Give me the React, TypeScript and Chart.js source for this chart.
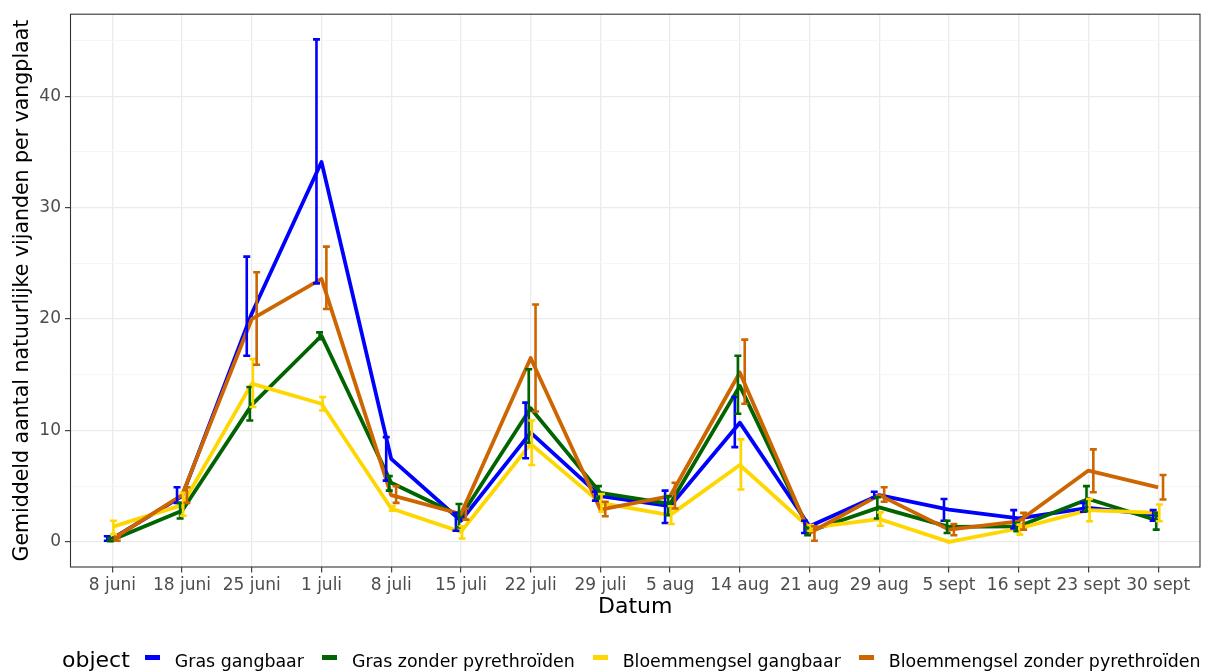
import React, { useEffect, useRef } from 'react';
import { Chart, registerables } from 'chart.js';

Chart.register(...registerables);

// ---------- data ----------
const DATES = ['8 juni', '18 juni', '25 juni', '1 juli', '8 juli', '15 juli', '22 juli', '29 juli', '5 aug', '14 aug', '21 aug', '29 aug', '5 sept', '16 sept', '23 sept', '30 sept'];

const SERIES_NAMES = ['Gras gangbaar', 'Gras zonder pyrethroïden', 'Bloemmengsel gangbaar', 'Bloemmengsel zonder pyrethroïden'];
const SERIES_COLORS = ['#0000FF', '#006400', '#FFD700', '#CD6600'];

const GRAS_GANGBAAR = [0.3, 4.1, 20.5, 34.1, 7.45, 1.9, 9.8, 4.1, 3.2, 10.7, 1.4, 4.2, 2.9, 2.1, 3.05, 2.4];
const GRAS_GANGBAAR_LOW = [0.1, 3.5, 16.7, 23.2, 5.5, 1.0, 7.5, 3.7, 1.7, 8.5, 0.8, 3.95, 1.9, 1.2, 2.7, 1.9];
const GRAS_GANGBAAR_HIGH = [0.5, 4.9, 25.6, 45.1, 9.4, 2.6, 12.5, 4.5, 4.6, 13.0, 1.9, 4.5, 3.85, 2.85, 3.5, 2.85];

const GRAS_ZONDER = [0.2, 2.8, 12.3, 18.5, 5.3, 2.3, 12.0, 4.4, 3.4, 14.0, 0.95, 3.1, 1.35, 1.4, 3.85, 1.9];
const GRAS_ZONDER_LOW = [0.05, 2.1, 10.9, 18.2, 4.6, 1.3, 8.9, 3.9, 2.4, 11.5, 0.6, 2.1, 0.8, 0.95, 2.75, 1.1];
const GRAS_ZONDER_HIGH = [0.35, 3.5, 13.9, 18.8, 5.9, 3.4, 15.5, 5.0, 4.1, 16.7, 1.3, 4.0, 1.9, 1.7, 5.0, 2.6];

const BLOEM_GANGBAAR = [1.35, 3.3, 14.2, 12.4, 3.0, 0.9, 8.8, 3.5, 2.4, 6.9, 1.25, 2.05, 0, 1.2, 2.85, 2.6];
const BLOEM_GANGBAAR_LOW = [0.7, 2.35, 12.1, 11.8, 2.8, 0.3, 6.9, 2.7, 1.6, 4.7, 1.0, 1.45, 0, 0.65, 1.85, 1.85];
const BLOEM_GANGBAAR_HIGH = [1.9, 4.4, 16.4, 13.0, 3.2, 1.4, 10.9, 4.3, 3.2, 9.2, 1.5, 2.65, 0, 1.55, 3.85, 3.35];

const BLOEM_ZONDER = [0.25, 4.2, 20.0, 23.6, 4.2, 2.5, 16.5, 2.9, 4.1, 15.2, 0.8, 4.2, 1.1, 1.85, 6.4, 4.9];
const BLOEM_ZONDER_LOW = [0.1, 3.5, 15.9, 20.9, 3.5, 2.0, 11.7, 2.3, 3.0, 12.4, 0.1, 3.6, 0.6, 1.1, 4.45, 3.8];
const BLOEM_ZONDER_HIGH = [0.4, 4.9, 24.2, 26.5, 5.0, 3.0, 21.3, 3.6, 5.3, 18.15, 1.4, 4.9, 1.6, 2.6, 8.3, 6.0];

const Y_MAJOR_TICKS = [0, 10, 20, 30, 40];
const Y_MINOR_TICKS = [5, 15, 25, 35, 45];

const X_TITLE = 'Datum';
const Y_TITLE = 'Gemiddeld aantal natuurlijke vijanden per vangplaat';
const LEGEND_TITLE = 'object';

// ---------- style ----------
const FONT = "'DejaVu Sans', 'Liberation Sans', Arial, sans-serif";
const DODGE = [-0.072, -0.028, 0.016, 0.07];
const CAP_HALF = 0.05;

const MEANS = [GRAS_GANGBAAR, GRAS_ZONDER, BLOEM_GANGBAAR, BLOEM_ZONDER];
const LOWS = [GRAS_GANGBAAR_LOW, GRAS_ZONDER_LOW, BLOEM_GANGBAAR_LOW, BLOEM_ZONDER_LOW];
const HIGHS = [GRAS_GANGBAAR_HIGH, GRAS_ZONDER_HIGH, BLOEM_GANGBAAR_HIGH, BLOEM_ZONDER_HIGH];

const errorBarPlugin = {
  id: 'errorBars',
  afterDatasetsDraw(chart: any) {
    const { ctx } = chart;
    const x = chart.scales.x;
    const y = chart.scales.y;
    ctx.save();
    ctx.lineCap = 'butt';
    ctx.lineWidth = 2.6;
    LOWS.forEach((lows, d) => {
      ctx.strokeStyle = SERIES_COLORS[d];
      lows.forEach((lo, i) => {
        const hi = HIGHS[d][i];
        const xc = x.getPixelForValue(i + DODGE[d]);
        const xl = x.getPixelForValue(i + DODGE[d] - CAP_HALF);
        const xr = x.getPixelForValue(i + DODGE[d] + CAP_HALF);
        const yl = y.getPixelForValue(lo);
        const yh = y.getPixelForValue(hi);
        ctx.beginPath();
        ctx.moveTo(xc, yl);
        ctx.lineTo(xc, yh);
        ctx.moveTo(xl, yl);
        ctx.lineTo(xr, yl);
        ctx.moveTo(xl, yh);
        ctx.lineTo(xr, yh);
        ctx.stroke();
      });
    });
    ctx.restore();
  },
  afterDraw(chart: any) {
    const { ctx, chartArea } = chart;
    ctx.save();
    ctx.strokeStyle = '#333333';
    ctx.lineWidth = 1.1;
    ctx.strokeRect(chartArea.left, chartArea.top, chartArea.right - chartArea.left, chartArea.bottom - chartArea.top);
    ctx.restore();
  },
};

export default function App() {
  const canvasRef = useRef<HTMLCanvasElement | null>(null);

  useEffect(() => {
    document.body.style.margin = '0';
    const canvas = canvasRef.current;
    if (!canvas) return;
    Chart.defaults.font.family = FONT;

    const datasets = MEANS.map((vals, d) => ({
      label: SERIES_NAMES[d],
      data: vals.map((v, i) => ({ x: i, y: v })),
      borderColor: SERIES_COLORS[d],
      backgroundColor: SERIES_COLORS[d],
      borderWidth: 3.8,
      borderJoinStyle: 'round' as const,
      borderCapStyle: 'butt' as const,
      pointRadius: 0,
      pointHoverRadius: 0,
      tension: 0,
      fill: false,
      order: 4 - d,
    }));

    const chart = new Chart(canvas, {
      type: 'line',
      data: { datasets },
      plugins: [errorBarPlugin],
      options: {
        animation: false,
        responsive: false,
        devicePixelRatio: 1,
        layout: { padding: { top: 14, right: 6, bottom: 46, left: 0 } },
        plugins: {
          legend: { display: false },
          tooltip: { enabled: false },
        },
        scales: {
          x: {
            type: 'linear',
            min: -0.6,
            max: DATES.length - 1 + 0.6,
            afterBuildTicks: (scale: any) => {
              scale.ticks = DATES.map((_, i) => ({ value: i }));
            },
            afterFit: (scale: any) => {
              scale.height = 58;
            },
            border: { display: false },
            grid: {
              color: '#EBEBEB',
              lineWidth: 1.3,
              tickColor: '#333333',
              tickLength: 5.5,
              tickWidth: 1.1,
            },
            ticks: {
              autoSkip: false,
              maxRotation: 0,
              padding: 3,
              color: '#4D4D4D',
              font: { size: 17, family: FONT },
              callback: (v: any) => DATES[Math.round(Number(v))] ?? '',
            },
            title: {
              display: true,
              text: X_TITLE,
              color: '#000000',
              font: { size: 22, family: FONT },
              padding: { top: 0, bottom: 5 },
            },
          },
          y: {
            type: 'linear',
            min: -2.255,
            max: 47.36,
            afterBuildTicks: (scale: any) => {
              scale.ticks = [...Y_MAJOR_TICKS, ...Y_MINOR_TICKS]
                .sort((a, b) => a - b)
                .map((v) => ({ value: v }));
            },
            afterFit: (scale: any) => {
              scale.width = 70.5;
            },
            border: { display: false },
            grid: {
              color: (c: any) => (Y_MAJOR_TICKS.includes(c.tick?.value) ? '#EBEBEB' : '#F4F4F4'),
              lineWidth: (c: any) => (Y_MAJOR_TICKS.includes(c.tick?.value) ? 1.3 : 0.8),
              tickColor: (c: any) => (Y_MAJOR_TICKS.includes(c.tick?.value) ? '#333333' : 'rgba(0,0,0,0)'),
              tickLength: 5.5,
              tickWidth: 1.1,
            },
            ticks: {
              padding: 4,
              color: '#4D4D4D',
              font: { size: 17, family: FONT },
              callback: (v: any) => (Y_MAJOR_TICKS.includes(Number(v)) ? String(v) : ''),
            },
            title: {
              display: true,
              text: Y_TITLE,
              color: '#000000',
              font: { size: 20.5, family: FONT },
              padding: { top: 10, bottom: 0 },
            },
          },
        },
      },
    } as any);

    return () => chart.destroy();
  }, []);

  return (
    <div style={{ position: 'relative', width: 1206, height: 671, overflow: 'hidden', background: '#ffffff' }}>
      <canvas ref={canvasRef} width={1206} height={671} style={{ display: 'block' }} />
      <div
        style={{
          position: 'absolute',
          left: 62,
          top: 647,
          height: 28,
          display: 'flex',
          alignItems: 'center',
          fontFamily: FONT,
          color: '#000000',
          whiteSpace: 'nowrap',
        }}
      >
        <span style={{ fontSize: 22, lineHeight: '26px', marginRight: 15, position: 'relative', top: -1.5 }}>{LEGEND_TITLE}</span>
        {SERIES_NAMES.map((name, d) => (
          <span key={name} style={{ display: 'flex', alignItems: 'center', marginRight: 18 }}>
            <span
              style={{
                display: 'inline-block',
                width: 15,
                height: 5,
                background: SERIES_COLORS[d],
                marginRight: 15,
                position: 'relative',
                top: -3.5,
              }}
            />
            <span style={{ fontSize: 17.4, lineHeight: '20px' }}>{name}</span>
          </span>
        ))}
      </div>
    </div>
  );
}
